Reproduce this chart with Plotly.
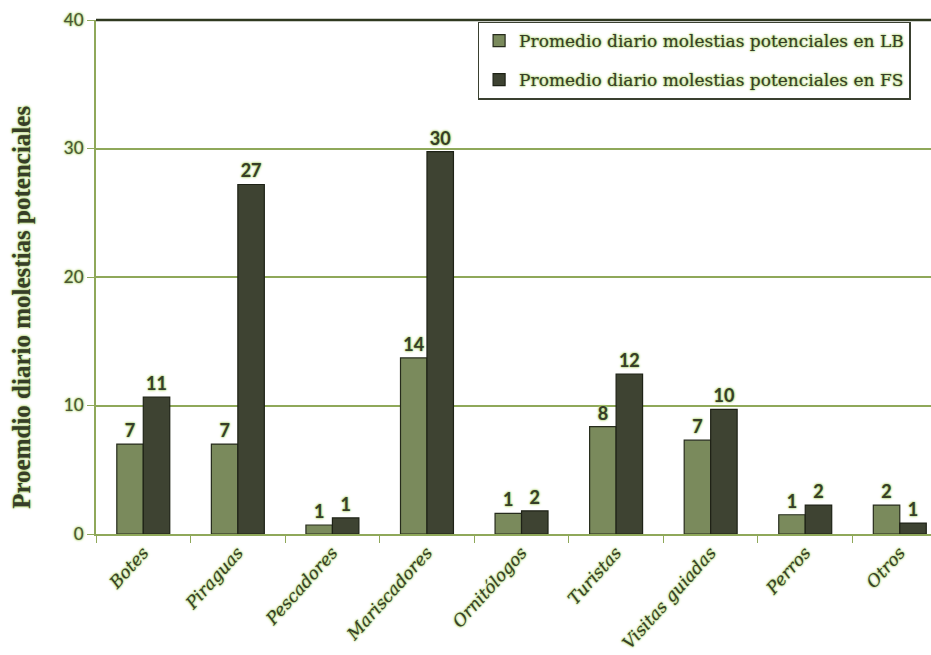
import plotly.graph_objects as go

categories = ["Botes", "Piraguas", "Pescadores", "Mariscadores", "Ornitólogos",
              "Turistas", "Visitas guiadas", "Perros", "Otros"]
lb_values = [7.0, 7.0, 0.7, 13.7, 1.6, 8.35, 7.3, 1.5, 2.25]
fs_values = [10.66, 27.2, 1.25, 29.75, 1.8, 12.45, 9.7, 2.25, 0.85]
lb_labels = ["7", "7", "1", "14", "1", "8", "7", "1", "2"]
fs_labels = ["11", "27", "1", "30", "2", "12", "10", "2", "1"]
y_ticks = [0, 10, 20, 30, 40]
y_title = "Proemdio diario molestias potenciales"

glow = "0px 0px 2px #a9cf6c, 0px 0px 3px #b9d67f, 0px 0px 1px #a9cf6c"
text_col = "#363d28"
green = "#8fa85a"
serif = "DejaVu Serif, Liberation Serif, serif"

fig = go.Figure()
fig.add_trace(go.Bar(
    x=categories, y=lb_values, name="Promedio diario molestias potenciales en LB",
    legendgroup="lb",
    marker=dict(color="#7a8a5c", line=dict(color="#262b1c", width=1.2)),
    text=lb_labels, textposition="outside", cliponaxis=False,
    textfont=dict(family="Lato", size=18, weight="bold", color=text_col, shadow=glow),
))
fig.add_trace(go.Bar(
    x=categories, y=fs_values, name="Promedio diario molestias potenciales en FS",
    legendgroup="fs",
    marker=dict(color="#3e4332", line=dict(color="#1e2216", width=1.2)),
    text=fs_labels, textposition="outside", cliponaxis=False,
    textfont=dict(family="Lato", size=18, weight="bold", color=text_col, shadow=glow),
))

fig.update_layout(
    width=931, height=655,
    margin=dict(l=96, r=0, t=20, b=121),
    paper_bgcolor="white", plot_bgcolor="white",
    barmode="group", bargap=0.44, bargroupgap=0,
    showlegend=True,
    legend=dict(
        x=0.457, y=0.997, xanchor="left", yanchor="top",
        bgcolor="white", bordercolor="#3a4030", borderwidth=1.5,
        font=dict(family=serif, size=17, color=text_col, shadow=glow),
        tracegroupgap=14, itemwidth=30,
    ),
    xaxis=dict(
        range=[-0.5, 8.33], tickson="boundaries", ticks="outside", ticklen=7,
        tickcolor=green, showline=True, linecolor=green, linewidth=2,
        tickangle=-48,
        tickfont=dict(family=serif, size=17, style="italic", color=text_col, shadow=glow),
        showgrid=False,
    ),
    yaxis=dict(
        range=[0, 40], tickvals=y_ticks, ticks="outside", ticklen=7, tickcolor=green,
        showline=True, linecolor=green, linewidth=2,
        showgrid=True, gridcolor=green, gridwidth=2,
        tickfont=dict(family="Lato", size=17, color="#4a5535", shadow=glow),
    ),
    shapes=[dict(type="line", xref="paper", yref="paper", x0=0, x1=1, y0=1, y1=1,
                 line=dict(color="#2f3820", width=2.5))],
    annotations=[dict(
        text=y_title, xref="paper", yref="paper", x=-0.0886, y=0.44,
        xanchor="center", yanchor="middle", textangle=-90, showarrow=False,
        font=dict(family="Liberation Serif", size=25, weight="bold", color=text_col, shadow=glow),
    )],
)

fig.write_html("out.html")
